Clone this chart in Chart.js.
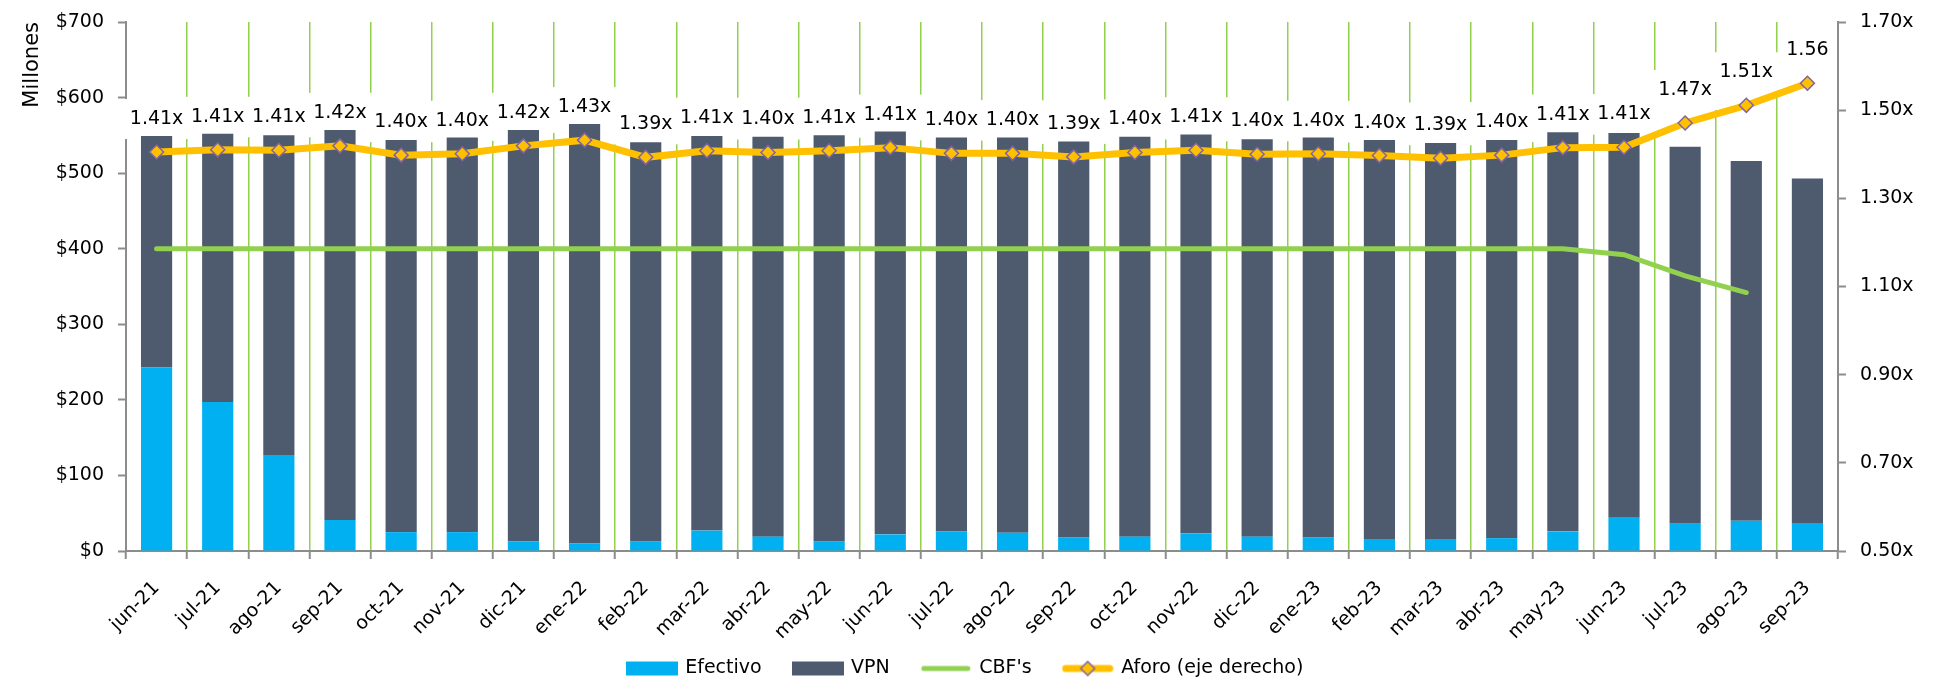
<!DOCTYPE html>
<html><head><meta charset="utf-8">
<script src="https://cdn.jsdelivr.net/npm/chart.js@4.4.1/dist/chart.umd.min.js"></script>
<style>html,body{margin:0;padding:0;background:#fff;} canvas{display:block;}</style>
</head><body>
<canvas id="c" width="1959" height="682"></canvas>
<script>
const categories = ['jun-21','jul-21','ago-21','sep-21','oct-21','nov-21','dic-21','ene-22','feb-22','mar-22','abr-22','may-22','jun-22','jul-22','ago-22','sep-22','oct-22','nov-22','dic-22','ene-23','feb-23','mar-23','abr-23','may-23','jun-23','jul-23','ago-23','sep-23'];
const efectivo = [243,197,127,41,25,25,13,10,13,27,19,13,22,26,24,18,19,23,19,18,16,16,17,26,44,37,40,36];
const vpn = [306,355,423,516,519,522,544,555,528,522,529,537,533,521,523,524,529,528,526,529,528,524,527,528,509,498,476,457];
const cbfs = [400,400,400,400,400,400,400,400,400,400,400,400,400,400,400,400,400,400,400,400,400,400,400,400,392,364,342,null];
const aforo = [1.405,1.410,1.409,1.419,1.398,1.401,1.419,1.432,1.393,1.408,1.404,1.408,1.415,1.402,1.402,1.394,1.404,1.409,1.400,1.401,1.397,1.391,1.398,1.415,1.416,1.471,1.511,1.561];
const aforoLabels = ['1.41x','1.41x','1.41x','1.42x','1.40x','1.40x','1.42x','1.43x','1.39x','1.41x','1.40x','1.41x','1.41x','1.40x','1.40x','1.39x','1.40x','1.41x','1.40x','1.40x','1.40x','1.39x','1.40x','1.41x','1.41x','1.47x','1.51x','1.56'];
const leftTickLabels = ['$0','$100','$200','$300','$400','$500','$600','$700'];
const rightTickLabels = ['0.50x','0.70x','0.90x','1.10x','1.30x','1.50x','1.70x'];
const seriesNames = ['Efectivo','VPN',"CBF's",'Aforo (eje derecho)'];

const FONT = 'DejaVu Sans';
const C_EF = '#00B0F0', C_VPN = '#4E5A6D', C_CBF = '#92D050', C_AF = '#FFC000', C_AF_B = '#7F63A6', C_AX = '#8C8C8C';

function drawDiamond(g, x, y, r) {
  g.beginPath(); g.moveTo(x, y - r); g.lineTo(x + r, y); g.lineTo(x, y + r); g.lineTo(x - r, y); g.closePath();
  g.fillStyle = C_AF; g.fill(); g.lineWidth = 1.5; g.strokeStyle = C_AF_B; g.stroke();
}
function legendSymbol(kind, color) {
  const cv = document.createElement('canvas'); cv.width = 52; cv.height = 18;
  const g = cv.getContext('2d');
  if (kind === 'box') { g.fillStyle = color; g.fillRect(0, 2, 52, 14); }
  else {
    g.strokeStyle = color; g.lineWidth = kind === 'diamond' ? 7 : 5; g.lineCap = 'round';
    g.beginPath(); g.moveTo(4, 9); g.lineTo(48, 9); g.stroke();
    if (kind === 'diamond') drawDiamond(g, 26, 9, 7);
  }
  return cv;
}
const symbols = [legendSymbol('box', C_EF), legendSymbol('box', C_VPN), legendSymbol('line', C_CBF), legendSymbol('diamond', C_AF)];

const labelPlugin = {
  id: 'aforoLabels',
  beforeDatasetsDraw(chart) {
    const meta = chart.getDatasetMeta(3), ctx = chart.ctx;
    ctx.save(); ctx.font = '19px "' + FONT + '"'; ctx.fillStyle = '#fff';
    meta.data.forEach((pt, i) => {
      const w = ctx.measureText(aforoLabels[i]).width, cy = pt.y - 33;
      ctx.fillRect(pt.x - w / 2 - 6, cy - 20, w + 12, 40);
    });
    ctx.restore();
  },
  afterDatasetsDraw(chart) {
    const meta = chart.getDatasetMeta(3), ctx = chart.ctx;
    ctx.save(); ctx.font = '19px "' + FONT + '"'; ctx.fillStyle = '#000';
    ctx.textAlign = 'center'; ctx.textBaseline = 'middle';
    meta.data.forEach((pt, i) => { ctx.fillText(aforoLabels[i], pt.x, pt.y - 33); });
    ctx.restore();
  }
};
const layoutTweaks = {
  id: 'layoutTweaks',
  afterLayout(chart) {
    const l = chart.legend; if (l) { l.left -= 14; l.right -= 14; }
    const x = chart.scales.x; if (x) { x.bottom = chart.height; }
  }
};

const tickFont = { family: FONT, size: 19 };
new Chart(document.getElementById('c'), {
  data: {
    labels: categories,
    datasets: [
      { type: 'bar', label: seriesNames[0], data: efectivo, backgroundColor: C_EF, yAxisID: 'y', stack: 'bars', order: 3, barPercentage: 0.51, categoryPercentage: 1 },
      { type: 'bar', label: seriesNames[1], data: vpn, backgroundColor: C_VPN, yAxisID: 'y', stack: 'bars', order: 3, barPercentage: 0.51, categoryPercentage: 1 },
      { type: 'line', label: seriesNames[2], data: cbfs, borderColor: C_CBF, borderWidth: 5, pointRadius: 0, tension: 0, yAxisID: 'y', stack: 'cbf', order: 2, spanGaps: false, borderCapStyle: 'round' },
      { type: 'line', label: seriesNames[3], data: aforo, borderColor: C_AF, borderWidth: 7, pointStyle: 'rectRot', pointRadius: 7, pointBackgroundColor: C_AF, pointBorderColor: C_AF_B, pointBorderWidth: 1.5, tension: 0, yAxisID: 'y1', order: 1 }
    ]
  },
  options: {
    responsive: false, animation: false, devicePixelRatio: 1,
    layout: { padding: { top: 22, bottom: -6, left: 0, right: 0 } },
    plugins: {
      tooltip: { enabled: false },
      legend: {
        position: 'bottom',
        labels: {
          usePointStyle: true, pointStyleWidth: 48, boxHeight: 14, padding: 32, font: tickFont, color: '#000',
          generateLabels: chart => chart.data.datasets.map((ds, i) => ({ text: ds.label, pointStyle: symbols[i], fillStyle: 'rgba(0,0,0,0)', strokeStyle: 'rgba(0,0,0,0)', lineWidth: 0, hidden: false, datasetIndex: i, fontColor: '#000' }))
        }
      }
    },
    scales: {
      x: {
        stacked: true,
        grid: { offset: true, color: c => (c.index === undefined || c.index === 0) ? 'rgba(0,0,0,0)' : C_CBF, lineWidth: 1.5, tickColor: C_AX, tickLength: 8, tickWidth: 2 },
        border: { color: C_AX, width: 2 },
        ticks: { font: tickFont, color: '#000', minRotation: 45, maxRotation: 45, padding: 18, autoSkip: false },
        afterFit: s => { s.height = 76; }
      },
      y: {
        position: 'left', stacked: true, min: 0, max: 700,
        ticks: { stepSize: 100, callback: (v, i) => leftTickLabels[i], font: tickFont, color: '#000', padding: 14 },
        grid: { drawOnChartArea: false, tickLength: 8, tickColor: C_AX, tickWidth: 2 },
        border: { color: C_AX, width: 2 },
        title: { display: true, text: 'Millones', align: 'end', font: { family: FONT, size: 21 }, color: '#000', padding: { top: 20, bottom: 0 } },
        afterFit: s => { s.width = 126; s.paddingTop = 11; s.paddingBottom = 11; }
      },
      y1: {
        position: 'right', min: 0.5, max: 1.7,
        ticks: { stepSize: 0.2, callback: (v, i) => rightTickLabels[i], font: tickFont, color: '#000', padding: 14 },
        grid: { drawOnChartArea: false, tickLength: 8, tickColor: C_AX, tickWidth: 2 },
        border: { color: C_AX, width: 2 },
        afterFit: s => { s.width = 121; s.paddingTop = 11; s.paddingBottom = 11; }
      }
    }
  },
  plugins: [labelPlugin, layoutTweaks]
});
</script>
</body></html>
